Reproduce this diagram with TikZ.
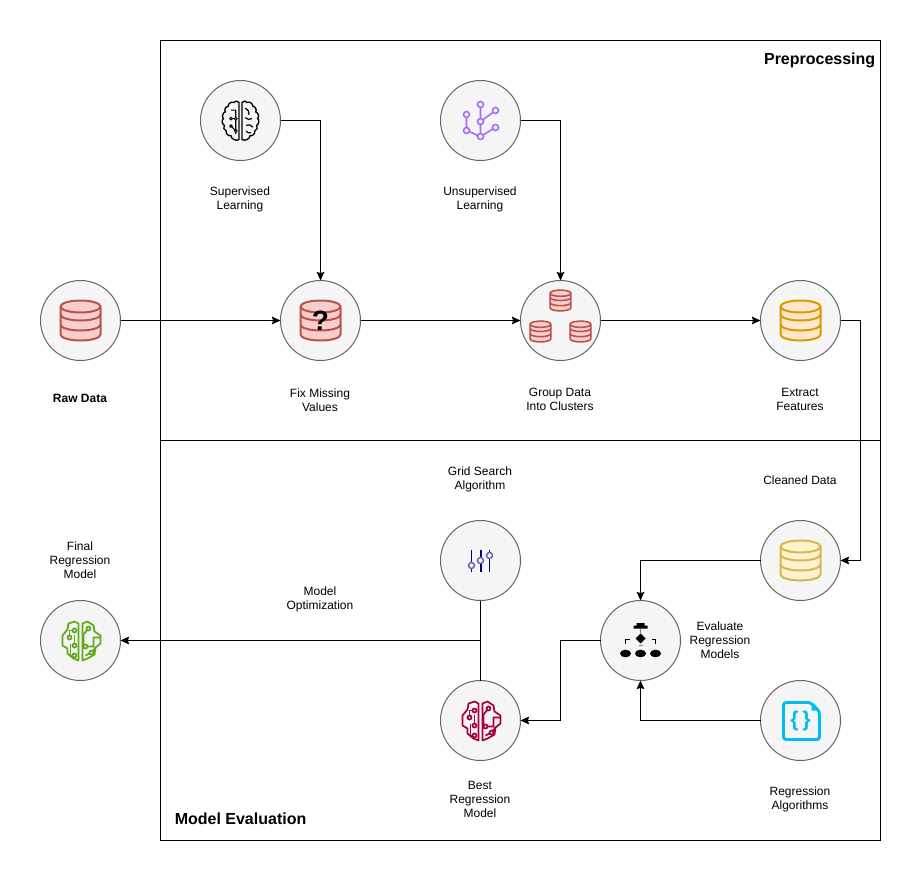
\documentclass[tikz,border=0pt]{standalone}
\usepackage{fontspec}
\setmainfont{Liberation Sans}
\usetikzlibrary{arrows.meta,shapes.geometric}
\definecolor{circfill}{HTML}{F5F5F5}
\definecolor{circline}{HTML}{666666}
\definecolor{redfill}{HTML}{F8CECC}
\definecolor{redline}{HTML}{B85450}
\definecolor{orangefill}{HTML}{FFE6CC}
\definecolor{orangeline}{HTML}{D79B00}
\definecolor{yellowfill}{HTML}{FFF2CC}
\definecolor{yellowline}{HTML}{D6B656}
\definecolor{treepurple}{HTML}{A66CFF}
\definecolor{slidernavy}{HTML}{000080}
\definecolor{sliderring}{HTML}{6666B3}
\definecolor{modelgreen}{HTML}{60A917}
\definecolor{modelred}{HTML}{A50040}
\definecolor{codeblue}{HTML}{00BEF2}
\tikzset{
  iconcirc/.style={circle,draw=circline,fill=circfill,line width=0.75pt,minimum size=60pt,inner sep=0pt,outer sep=0pt},
  lbl/.style={font=\fontsize{9}{10.5}\selectfont,align=center,inner sep=0pt,xshift=-0.4pt,yshift=-0.2pt},
  paneltitle/.style={font=\fontsize{12}{14}\selectfont\bfseries,inner sep=0pt},
  panel/.style={draw=black,line width=0.75pt,minimum width=540pt,minimum height=300pt,inner sep=0pt,outer sep=0pt},
  conn/.style={draw=black,line width=0.75pt,-{Stealth[length=6.5pt,width=5.8pt,inset=1pt]}},
  plainconn/.style={draw=black,line width=0.75pt},
  pics/dbcyl/.style 2 args={code={
    \draw[fill=#1,draw=#2,line join=round] (-20,-14) -- (-20,14) arc[start angle=180,end angle=0,x radius=20,y radius=6] -- (20,-14) arc[start angle=0,end angle=-180,x radius=20,y radius=6] -- cycle;
    \draw[draw=#2] (-20,-14) arc[start angle=180,end angle=0,x radius=20,y radius=6];
    \draw[draw=#2] (-20,-6) arc[start angle=180,end angle=0,x radius=20,y radius=6];
    \draw[draw=#2] (-20,4) arc[start angle=180,end angle=0,x radius=20,y radius=6];
  }},
  pics/thinbrain/.style={code={
    \draw[line width=1pt] (-1.5,-19) to[bend right=60] (-7,-19) to[bend right=60] (-13,-15) to[bend right=60] (-16,-9) to[bend right=60] (-18,-2) to[bend right=60] (-17,5) to[bend right=60] (-15,11) to[bend right=60] (-10,16) to[bend right=60] (-1.5,20) -- cycle;
    \draw[line width=1pt] (1.5,-19) to[bend left=60] (7,-19) to[bend left=60] (13,-15) to[bend left=60] (16,-9) to[bend left=60] (18,-2) to[bend left=60] (17,5) to[bend left=60] (15,11) to[bend left=60] (10,16) to[bend left=60] (1.5,20) -- cycle;
    \draw[line width=0.8pt] (-5,-11) -- (-5,-2) -- (-5,14) (-10,-11) -- (-5,-11) (-10,-2) -- (-5,-2) (-10,6) -- (-5,11);
    \foreach \cx/\cy in {-10/-2,-5/-2,-10/6,-5/11}{\draw[line width=0.7pt,fill=circfill] (\cx,\cy) circle (1.4);}
    \draw[line width=0.9pt] (5,-13) to[bend left=40] (9,-6) (5,-3) to[bend right=40] (12,-2) (6,5) to[bend left=40] (13,7) (6,11) to[bend right=40] (11,13);
  }},
  pics/clustertree/.style={code={
    \draw[treepurple,line width=1.2pt] (0,-16) -- (0,16) (0,1) -- (15,-10) (-14,-6) -- (-14,10) -- (0,16) -- (15,7);
    \foreach \cx/\cy in {0/-16,15/-10,-14/-6,0/1,-14/10,15/7,0/16}{\draw[treepurple,line width=1.2pt,fill=circfill] (\cx,\cy) circle (3);}
  }},
  pics/circuitbrain/.style={code={
    \draw[line join=round] (-2,-17) -- (-6,-19) -- (-12,-17) -- (-13,-11) -- (-18,-5) -- (-18,5) -- (-13,8) -- (-13,13) -- (-7,18) -- (-2,20) -- cycle;
    \draw[line join=round] (2,-17) -- (7,-19) -- (13,-15) -- (14,-9) -- (20,-5) -- (20,3) -- (15,7) -- (14,14) -- (7,18) -- (2,20) -- cycle;
    \draw (-6,-10) -- (-11,-10) -- (-11,-3) (-6,-6) -- (-6,5) (-10,3) -- (-10,15) -- (-6,15);
    \draw (8,-12) -- (3,-6) -- (3,8) (5,6) -- (13,6) -- (13,-3) -- (20,-3) (11,12) -- (5,15) (11,12) -- (15,7);
    \foreach \cx/\cy in {-6/-10,-11/-3,-6/5,-6/15,8/-12,5/6,11/12}{\draw[fill=circfill] (\cx,\cy) circle (2);}
  }},
  pics/sliders/.style={code={
    \draw[slidernavy,line width=0.9pt] (-9,-11) -- (-9,11) (9,-11) -- (9,11);
    \draw[slidernavy,line width=1.5pt] (0,-11) -- (0,11);
    \foreach \cx/\cy in {-9/5,0/0,9/-5}{\draw[sliderring,line width=1.1pt,fill=circfill] (\cx,\cy) circle (3);}
  }},
  pics/flowtree/.style={code={
    \fill[black] (-7,-15) rectangle (7,-12) (-4,-17.5) rectangle (4,-15);
    \draw[gray,line width=0.4pt] (0,-12) -- (0,-8) (-2,5) -- (2,5);
    \fill[black] (0,-7) -- (5,-2) -- (0,3) -- (-5,-2) -- cycle;
    \draw[black,line width=0.6pt] (-15,3) -- (-15,-1) -- (-11,-1) (15,3) -- (15,-1) -- (11,-1);
    \foreach \cx in {-15,0,15}{\fill[black] (\cx,13) ellipse (5.5 and 3.8);}
  }},
  pics/codefile/.style={code={
    \draw[codeblue,line width=2.2pt,line join=round,rounded corners=2pt] (-17,-18) -- (10,-18) -- (19,-9) -- (19,19) -- (-17,19) -- cycle;
    \fill[codeblue] (11,-18) -- (19,-10) -- (11,-10) -- cycle;
  }}
}
\begin{document}
\begin{tikzpicture}[x=0.75pt,y=-0.75pt,shift={(0.5,0.5)}]
\useasboundingbox (-0.5,-0.5) rectangle (921.5,880.5);
\node[panel] (prepanel) at (520,240) {};
\node[panel] (evalpanel) at (520,640) {};
\node[paneltitle,anchor=east] (pretitle) at (875,60) {Preprocessing};
\node[paneltitle,anchor=west] (evaltitle) at (174,818) {Model Evaluation};
\node[iconcirc] (suplearn) at (240,120) {};
\node[iconcirc] (unsuplearn) at (480,120) {};
\node[iconcirc] (rawdata) at (80,320) {};
\node[iconcirc] (fixdata) at (320,320) {};
\node[iconcirc] (groupdata) at (560,320) {};
\node[iconcirc] (features) at (800,320) {};
\node[iconcirc] (gridsearch) at (480,560) {};
\node[iconcirc] (cleandata) at (800,560) {};
\node[iconcirc] (finalmodel) at (80,640) {};
\node[iconcirc] (evalmodels) at (640,640) {};
\node[iconcirc] (bestmodel) at (480,720) {};
\node[iconcirc] (regalgos) at (800,720) {};
\pic[scale=0.95] at (suplearn) {thinbrain};
\pic at (unsuplearn) {clustertree};
\pic[line width=1.5pt] at (rawdata) {dbcyl={redfill}{redline}};
\pic[line width=1.5pt] at (fixdata) {dbcyl={redfill}{redline}};
\node[font=\fontsize{21}{21}\selectfont\bfseries,inner sep=0pt] (qmark) at (320,320) {?};
\pic[scale=0.52,line width=1.2pt] at (560,300) {dbcyl={redfill}{redline}};
\pic[scale=0.52,line width=1.2pt] at (540,331) {dbcyl={redfill}{redline}};
\pic[scale=0.52,line width=1.2pt] at (580,331) {dbcyl={redfill}{redline}};
\pic[line width=1.5pt] at (features) {dbcyl={orangefill}{orangeline}};
\pic[line width=1.5pt] at (cleandata) {dbcyl={yellowfill}{yellowline}};
\pic at (gridsearch) {sliders};
\pic[draw=modelgreen,line width=1.3pt] at (finalmodel) {circuitbrain};
\pic[draw=modelred,line width=1.3pt] at (bestmodel) {circuitbrain};
\pic at (evalmodels) {flowtree};
\pic at (regalgos) {codefile};
\node[font=\fontsize{16}{16}\selectfont\bfseries,text=codeblue,inner sep=0pt] (codebrace) at (800,720) {\{\,\}};
\node[lbl] (suptext) at (240,199) {Supervised\\Learning};
\node[lbl] (unsuptext) at (480,199) {Unsupervised\\Learning};
\node[lbl,font=\fontsize{9}{10.5}\selectfont\bfseries] (rawtext) at (80,398) {Raw Data};
\node[lbl] (fixtext) at (320,399) {Fix Missing\\Values};
\node[lbl] (grouptext) at (560,399) {Group Data\\Into Clusters};
\node[lbl] (featuretext) at (800,399) {Extract\\Features};
\node[lbl] (gridtext) at (480,479) {Grid Search\\Algorithm};
\node[lbl] (cleantext) at (800,479) {Cleaned Data};
\node[lbl] (finaltext) at (80,559) {Final\\Regression\\Model};
\node[lbl] (opttext) at (320,599) {Model\\Optimization};
\node[lbl] (evaltext) at (720,639) {Evaluate\\Regression\\Models};
\node[lbl] (besttext) at (480,799) {Best\\Regression\\Model};
\node[lbl] (algotext) at (800,799) {Regression\\Algorithms};
\coordinate (featturn) at (860,320);
\coordinate (evalturn) at (560,640);
\draw[conn] (suplearn.east) -| (fixdata.north);
\draw[conn] (unsuplearn.east) -| (groupdata.north);
\draw[conn] (rawdata) -- (fixdata);
\draw[conn] (fixdata) -- (groupdata);
\draw[conn] (groupdata) -- (features);
\draw[conn] (features.east) -- (featturn) |- (cleandata.east);
\draw[conn] (cleandata.west) -| (evalmodels.north);
\draw[conn] (regalgos.west) -| (evalmodels.south);
\draw[conn] (evalmodels.west) -- (evalturn) |- (bestmodel.east);
\draw[plainconn] (gridsearch) -- (bestmodel);
\draw[conn] (gridsearch.south |- finalmodel.east) -- (finalmodel.east);
\end{tikzpicture}
\end{document}
